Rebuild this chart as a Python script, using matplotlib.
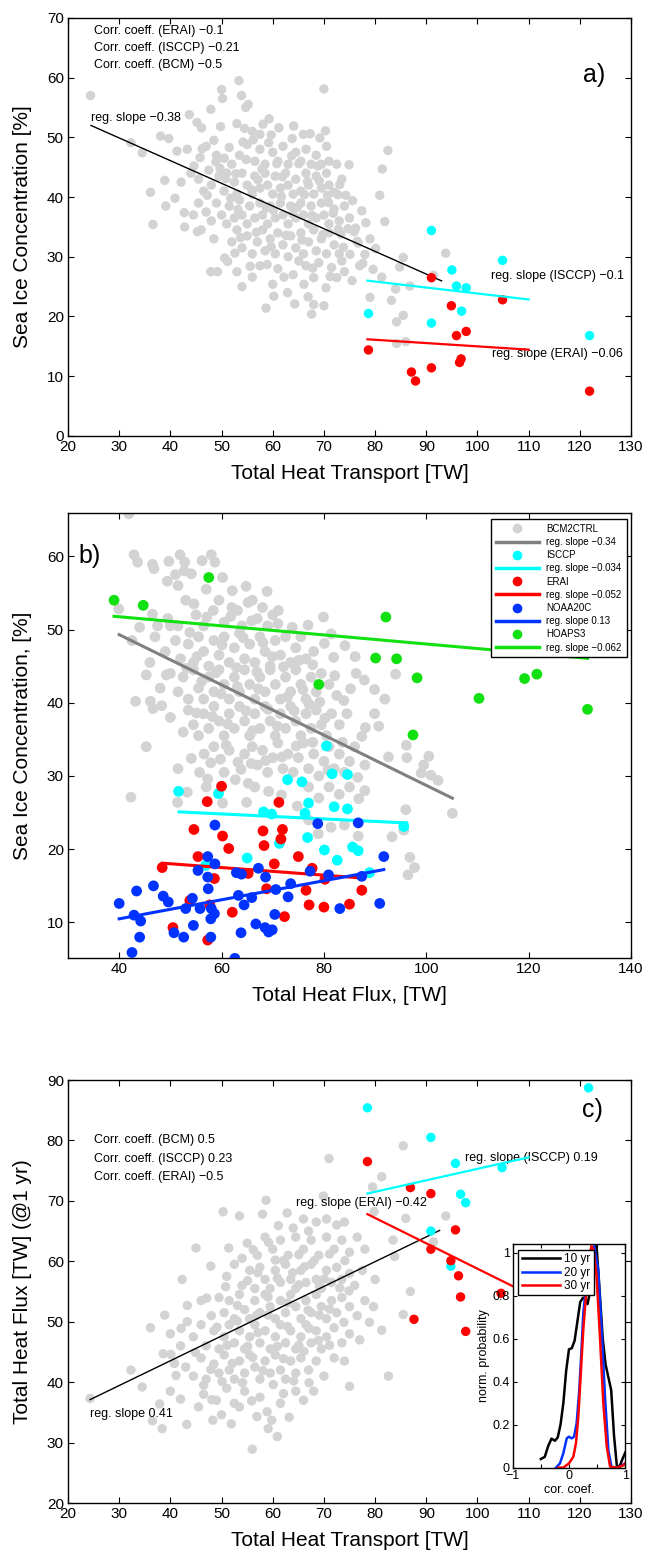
import numpy as np
import matplotlib
matplotlib.use('Agg')
import matplotlib.pyplot as plt
from matplotlib.lines import Line2D

plt.rcParams['font.family'] = ['Liberation Sans', 'DejaVu Sans']

# ---------------- panel a data: Total heat transport vs sea ice ----------------
a_gray = [
    (50, 58), (50.2, 56.5), (53.4, 59.5), (53.9, 57), (54.7, 55), (55.2, 55.5), (70, 58.1),
    (43.7, 53.8), (45.2, 52.5), (46.1, 51.6), (47.9, 54.7), (49.8, 51.8), (53, 52.3), (54.5, 51.5),
    (56, 51), (57.5, 50.5), (59.3, 53.1), (59.7, 50.4), (63.8, 49.8), (66, 50.5), (70.3, 51.1),
    (38.1, 50.2), (39.7, 49.8), (32.3, 49.1), (24.4, 57.0),
    (34.5, 47.4), (41.3, 47.7), (43.3, 48), (45.8, 46.6), (47, 48.5), (48.5, 49.5), (49, 47),
    (50.5, 46.5), (51.5, 48.3), (52, 45.5), (53.5, 47), (55, 48.8), (56.5, 46), (57.5, 48),
    (58.5, 45.5), (60, 47.5), (61, 46), (62, 48.5), (63, 45.5), (64.5, 47.5), (65.5, 46),
    (66.5, 48), (67.5, 45.5), (68.5, 47), (69.5, 45.5), (70.5, 48.5), (71, 46), (74.9, 45.4),
    (82.5, 47.8), (81.4, 44.7), (72.5, 45.5),
    (38.9, 42.8), (42.1, 42.5), (44, 44), (45.5, 43), (46.5, 41), (47.5, 44.5), (48, 42),
    (49.5, 43.5), (50.5, 41), (51, 44), (52.5, 42.5), (53, 40.5), (54, 44), (55, 42), (56, 40.5),
    (56.5, 43.5), (57.5, 41.5), (58.5, 44), (59, 42), (60, 40.5), (60.5, 43.5), (61.5, 41.5),
    (62.5, 44), (63, 42), (64, 40.5), (64.5, 43), (65.5, 41), (66.5, 44), (67, 42), (68, 40.5),
    (68.5, 43.5), (69.5, 41.5), (70.5, 44), (71, 42), (72, 40.8), (72.7, 40.4), (73.5, 43),
    (74.3, 40.3), (36.1, 40.8), (40.9, 39.8), (80.9, 40.3),
    (36.6, 35.4), (39.1, 38.5), (42.7, 37.4), (42.8, 35), (44.5, 37), (45.5, 39), (47, 37.5),
    (48, 36), (49, 39), (50, 37), (51, 35.5), (51.5, 38.5), (52.5, 36.5), (53.5, 39.5), (54, 37),
    (55, 35.5), (55.5, 38.5), (56.5, 36.5), (57.5, 39), (58, 37), (59, 35.5), (59.5, 38.5),
    (60.5, 36.5), (61.5, 39), (62, 37), (63, 35.5), (63.5, 38.5), (64.5, 36.5), (65.5, 39),
    (66, 37), (67, 35.5), (67.5, 38.5), (68.5, 36.5), (69.5, 39), (70, 37), (71, 35.5), (72, 38),
    (73, 36), (74, 38.5), (75, 36.5), (75.9, 34.2), (77.4, 37.7), (81.9, 35.9),
    (45.3, 34.2), (46, 34.5), (48.5, 33), (50.6, 29.8), (51.2, 29.2), (52, 32.5), (53, 34.5),
    (54, 31.5), (55, 33.5), (56, 30.5), (57, 32.5), (58, 34.5), (58.5, 31), (59.5, 33),
    (60.5, 30.5), (61, 34), (62, 32), (63, 30), (63.5, 33.5), (64.5, 31.5), (65.5, 34), (66, 30.5),
    (67, 32.5), (68, 34.5), (68.5, 31), (69.5, 33), (70.5, 30.5), (71, 34), (72, 32), (73, 30.5),
    (73.5, 29.3), (75.1, 30.4), (76.5, 32.6), (76.7, 32.3), (78, 30.4), (80.1, 31.4), (79, 33),
    (47.9, 27.5), (49.2, 27.5), (53, 27.5), (54, 25), (56, 26.6), (57.5, 28.5), (60, 25.4),
    (61, 28), (62.9, 24), (64, 27), (66.1, 25.4), (66.5, 28.5), (68, 26.5), (69, 29), (70.4, 24.8),
    (71.5, 28.2), (72.5, 26.5), (74, 27.5), (75.5, 26), (77, 28.5), (79.6, 27.9), (81.3, 26.6),
    (84.8, 28.3), (85.5, 29.9), (86.8, 25.1), (84, 24.6), (91.4, 26.9), (93.8, 30.6),
    (58.7, 21.4), (60.2, 23.4), (64.3, 22.1), (66.9, 23.3), (67.6, 20.4), (68, 22), (70, 21.8),
    (79, 23.2), (83.2, 22.7), (84.2, 19.1), (85.5, 20.2), (84.2, 15.5), (86, 15.8),
    (49.7, 44.8), (51.8, 39.8), (52.8, 43.9), (53.7, 33.2), (54.8, 46.3), (55.9, 41.2), (56.8, 34.1),
    (57.9, 44.7), (58.8, 38.2), (59.7, 31.7), (60.8, 45.6), (61.7, 40.1), (62.6, 33.6), (63.7, 46.9),
    (64.8, 38.3), (65.7, 32.8), (66.8, 42.6), (67.7, 36.9), (68.8, 45.2), (69.8, 33.7), (70.7, 40.3),
    (71.8, 37.3), (72.8, 34.6), (73.8, 31.6), (74.7, 34.7), (56.2, 49.6), (58.1, 52.2), (61.2, 51.6),
    (64.1, 51.9), (67.3, 50.6), (69.2, 49.9), (52.6, 30.6), (55.6, 28.4), (58.9, 28.7), (62.2, 26.6),
    (65.1, 29.3), (67.8, 28.1), (71.2, 26.7), (73.3, 33.8), (76.2, 34.8), (78.2, 35.7), (77.6, 28.9),
    (50.8, 43.1), (47.2, 40.3), (48.9, 45.9), (46.2, 48.1), (44.6, 45.2), (53.2, 37.9), (60.1, 37.8),
    (63.9, 37.2), (66.2, 40.4), (69.1, 42.7), (57.1, 42.9), (61.9, 43.4), (65.1, 45.6), (54.2, 49.2),
    (59.2, 49.1), (70.9, 39.1), (73.1, 42.1), (75.6, 39.4),
]
a_isccp = [(91.0, 34.4), (104.9, 29.4), (95.0, 27.8), (95.9, 25.1), (97.8, 24.8),
           (78.7, 20.5), (96.9, 20.9), (91.0, 18.9), (121.9, 16.8)]
a_erai = [(91.0, 26.5), (104.9, 22.8), (94.9, 21.8), (97.8, 17.5), (95.9, 16.8), (78.7, 14.4),
          (96.8, 12.9), (96.5, 12.3), (91.0, 11.4), (87.1, 10.7), (87.9, 9.2), (121.9, 7.5)]

# regression lines: slope, intercept, x start, x end
a_fit_color = ['black', '#00ffff', '#ff0000']
a_fit_slope = [-0.38, -0.10, -0.055]
a_fit_icpt = [61.3, 33.85, 20.5]
a_fit_x0 = [24.5, 78.5, 78.5]
a_fit_x1 = [93.0, 110.0, 110.0]
a_fit_lw = [1.0, 1.6, 1.6]

# ---------------- panel b data: Total heat flux vs sea ice ----------------
b_gray = [
    (41.9, 65.8), (42.9, 60.2), (43.6, 59.2), (46.5, 58.9), (46.8, 58.3), (49.7, 59.3), (49.4, 56.6),
    (51.9, 60.2), (52.8, 59.2), (52.7, 58), (51.5, 56), (56.2, 59.4), (58, 60.2), (58.7, 59.2),
    (57, 55.5), (51, 57.5),
    (39.9, 52.8), (44, 50.3), (46.5, 52.1), (49.5, 51.5), (51.5, 50.5), (53, 54), (54.6, 53.5),
    (55, 52), (56.5, 50.5), (58.4, 52.6), (59.5, 54), (60.5, 51), (62, 53), (63.1, 52.6), (64, 50.5),
    (65.2, 53.7), (66, 54), (67, 51.5), (68, 53), (69, 50.5), (70, 52), (71, 50.8), (79.9, 51.7),
    (50, 50.5), (47.5, 50.5),
    (42.5, 48.5), (46, 45.5), (47, 49), (49, 47), (51, 48.5), (52, 46), (53.5, 48), (54.5, 45.5),
    (55.5, 49), (56.5, 47), (57.5, 45), (58.5, 48.5), (59.5, 46.5), (60.5, 49), (61.5, 45.5),
    (62.5, 47.5), (63.5, 49.5), (64.5, 46), (65.5, 48), (66.5, 45.5), (67.5, 49), (68.5, 47),
    (69.5, 45), (70.5, 48.5), (71.5, 46.5), (72.5, 49), (73.5, 45.5), (74.5, 47.5), (75.5, 49),
    (76.5, 46), (78, 47), (80.1, 48.1), (81.4, 49.4), (86.1, 46.3),
    (43.2, 40.2), (45.3, 43.8), (46.1, 40.2), (48, 42), (50, 44), (51.5, 41.5), (52.5, 43.5),
    (53.5, 40.5), (54.5, 44.5), (55.5, 42), (56.5, 40.5), (57.5, 43.5), (58.5, 41.5), (59.5, 44.5),
    (60.5, 42.5), (61.5, 40.5), (62.5, 43.5), (63.5, 41.5), (64.5, 44.5), (65.5, 42.5), (66.5, 40.5),
    (67.5, 43.5), (68.5, 41.5), (69.5, 44.5), (70.5, 42.5), (71.5, 40.5), (72.5, 43.5), (73.5, 41.5),
    (74.5, 44.5), (75.5, 42.5), (76.5, 40.5), (77.5, 43.5), (78.5, 41.5), (79.5, 44), (81, 42.5),
    (82.5, 41), (86.3, 44), (89.9, 41.8), (91.9, 40.5), (94, 43.9),
    (46.6, 39.2), (50, 38), (52.5, 36), (53.5, 39), (54.5, 37), (55.5, 35.5), (56.5, 38.5),
    (57.5, 36.5), (58.5, 39.5), (59.5, 37.5), (60.5, 35.5), (61.5, 38.5), (62.5, 36.5), (63.5, 39.5),
    (64.5, 37.5), (65.5, 35.5), (66.5, 38.5), (67.5, 36.5), (68.5, 39.5), (69.5, 37.5), (70.5, 35.5),
    (71.5, 38.5), (72.5, 36.5), (73.5, 39.5), (74.5, 37.5), (75.5, 35.5), (76.5, 38.5), (77.5, 36.5),
    (78.5, 39), (79.5, 37), (80.5, 35.5), (81.5, 38.5), (83, 37), (84.5, 38.5), (87.4, 35.4),
    (88.1, 36.6), (89.9, 38.5), (90.7, 36.8),
    (45.3, 34), (51.5, 31), (54.1, 32.4), (56.6, 33), (55.7, 30.5), (57.3, 29.6), (58.5, 34),
    (59.8, 32.3), (60.5, 30.5), (61.5, 33.5), (62.7, 29.5), (63.8, 30.9), (64.5, 33), (65.2, 29),
    (66, 34), (67, 31.5), (68, 33.5), (69, 30.5), (70, 32.5), (71, 34.5), (72, 31), (73, 33),
    (74, 30.5), (75, 32.5), (76, 34.5), (77, 31), (78, 33), (79, 30), (80, 32), (81, 34), (82, 31),
    (83, 33), (84, 30.5), (85, 32), (86, 34), (92.6, 32.6), (96.1, 34.2), (96.2, 32.5), (100.5, 32.7),
    (99.5, 31.5), (99, 30.4), (100.9, 30.1), (102.3, 29.4), (88, 31.5),
    (42.3, 27.1), (51.4, 26.4), (53.3, 27.8), (60.2, 26.3), (64.9, 26.4), (69.2, 27.9), (71.7, 27.4),
    (74.8, 25.9), (77, 28.5), (79, 27), (81, 28.5), (83, 27.5), (85, 28.5), (86.8, 26.9), (88, 28),
    (96, 25.4), (105.1, 24.9), (66.5, 28.5), (57, 28.5),
    (95.6, 22.6), (93.3, 21.7), (96.8, 18.9), (97.7, 17.5), (96.4, 16.5), (86.7, 21.8), (78.9, 22.1),
    (81.4, 23), (84, 23.3), (77, 24),
    (53.8, 49.6), (55.2, 46.3), (57.1, 51.7), (58.9, 44.1), (60.1, 47.9), (61.8, 51.8), (62.9, 44.8),
    (64.2, 48.9), (65.9, 51.2), (66.9, 44.2), (68.1, 48.2), (69.9, 46.3), (71.1, 52.6), (72.1, 44.9),
    (73.8, 50.3), (75.1, 45.8), (76.9, 50.6), (77.8, 45.2), (56.1, 42.9), (58.2, 38.1), (59.9, 41.2),
    (61.2, 37.1), (63.1, 42.2), (64.8, 38.9), (66.1, 36.2), (67.2, 41.9), (69.1, 39.1), (70.9, 36.8),
    (72.9, 40.8), (74.2, 38.9), (75.9, 41.8), (77.1, 39.8), (79.2, 40.1), (80.2, 37.9), (82.1, 43.7),
    (83.9, 40.3), (85.2, 41.9), (57.9, 31.8), (60.9, 34.2), (63.2, 31.9), (65.8, 31.7), (68.6, 32.1),
    (71.8, 32.6), (74.6, 34.1), (77.8, 34.6), (80.8, 30.8), (83.6, 34.6), (86.6, 29.8), (55.1, 38.6),
    (53.2, 44.7), (49.2, 43.8), (48.3, 39.6), (81.9, 46.2), (84.1, 47.8), (87.9, 43.1), (62.1, 55.3),
    (64.8, 55.9), (60.2, 57.1), (54.1, 57.6), (68.9, 55.2),
]
b_isccp = [(51.6, 27.9), (59.4, 27.6), (72.9, 29.5), (75.7, 29.2), (80.5, 34.1), (81.6, 30.3),
           (84.6, 30.2), (77.0, 26.3), (82.0, 25.8), (84.6, 25.5), (68.2, 25.1), (69.8, 24.8),
           (76.3, 24.9), (95.6, 23.1), (76.8, 21.6), (71.3, 20.8), (80.1, 19.9), (85.6, 20.3),
           (86.7, 19.8), (65.0, 18.8), (82.6, 18.5), (88.9, 16.8), (56.9, 17.8)]
b_erai = [(60.0, 28.6), (57.2, 26.5), (71.2, 26.4), (54.6, 22.7), (68.1, 22.5), (71.9, 22.7),
          (60.2, 21.8), (71.6, 21.4), (61.4, 20.1), (68.3, 20.5), (55.4, 19.0), (70.3, 18.0),
          (75.0, 19.0), (48.4, 17.5), (58.6, 16.0), (65.2, 16.7), (77.7, 17.4), (80.2, 15.9),
          (87.4, 14.4), (68.8, 14.6), (76.5, 14.4), (77.1, 12.4), (80.0, 12.1), (85.0, 12.5),
          (62.1, 11.4), (72.3, 10.8), (50.5, 9.3), (57.3, 7.6), (57.7, 12.4), (53.8, 13.0)]
b_noaa = [(58.7, 23.3), (78.8, 23.5), (86.7, 23.6), (91.7, 19.0), (57.3, 19.0), (58.7, 18.0),
          (55.4, 17.1), (57.3, 16.2), (57.4, 14.6), (67.2, 17.4), (68.6, 16.2), (62.9, 16.8),
          (63.9, 16.6), (77.3, 17.0), (80.9, 16.5), (87.4, 16.3), (73.5, 15.3), (70.6, 14.5),
          (73.0, 13.5), (65.9, 13.4), (63.3, 13.7), (64.4, 12.4), (46.7, 15.0), (43.4, 14.3),
          (40.0, 12.6), (48.6, 13.6), (49.6, 12.8), (54.3, 13.3), (53.0, 11.9), (55.8, 11.9),
          (58.0, 11.9), (58.6, 11.2), (57.9, 10.5), (42.9, 11.0), (44.2, 10.2), (54.5, 9.6),
          (50.7, 8.6), (52.6, 8.0), (44.0, 8.0), (57.9, 8.0), (42.5, 5.9), (62.6, 5.1), (63.8, 8.6),
          (66.7, 9.8), (68.5, 9.3), (69.2, 8.7), (69.9, 9.0), (70.4, 11.1), (83.1, 11.9), (90.9, 12.6)]
b_hoaps = [(39.0, 54.0), (44.7, 53.3), (57.5, 57.1), (92.1, 51.7), (79.0, 42.5), (90.1, 46.1),
           (94.2, 46.0), (98.2, 43.4), (97.4, 35.6), (110.3, 40.6), (119.2, 43.3), (121.6, 43.9),
           (131.5, 39.1)]

b_names = ['BCM2CTRL', 'ISCCP', 'ERAI', 'NOAA20C', 'HOAPS3']
b_dot_color = ['#d3d3d3', '#00ffff', '#ff0000', '#0033ff', '#11e011']
b_line_color = ['#808080', '#00ffff', '#ff0000', '#0033ff', '#11e011']
b_fit_slope = [-0.343, -0.034, -0.052, 0.13, -0.062]
b_fit_icpt = [63.02, 26.86, 20.62, 5.3, 54.22]
b_fit_x0 = [40.0, 51.7, 48.4, 40.0, 39.0]
b_fit_x1 = [105.1, 96.2, 87.4, 91.7, 131.5]
b_slope_text = ['\u22120.34', '\u22120.034', '\u22120.052', '0.13', '\u22120.062']

# ---------------- panel c data: Total heat transport vs total heat flux ----------------
c_gray = [
    (71, 77), (85.5, 79.1), (81.3, 74), (79.5, 72.3), (69.9, 70.8), (58.7, 70.1),
    (50.3, 68.2), (53.5, 67.5), (58, 67.8), (62.8, 68), (66, 67), (68.5, 66.5), (70.5, 67),
    (72.5, 66), (74, 66.5), (79.8, 68.2), (86, 67.1), (93.8, 67.5), (64, 65.5), (67, 65),
    (45, 62.2), (51.4, 62.2), (55, 63), (57, 61), (58.5, 64), (60, 62), (61.5, 63.5), (63, 61),
    (64.5, 64), (66, 62), (67.5, 63.5), (69, 61), (70.5, 64), (72, 62), (73.5, 63.5), (75, 61.5),
    (76.5, 64), (78, 62), (83.8, 60.8), (83.5, 63.5), (91.4, 63.2), (54, 60.5), (60.5, 60.2),
    (42.3, 57), (47.9, 59.2), (51, 57.5), (52.5, 59.5), (54, 56), (55.5, 58.5), (56.5, 55.5),
    (57.5, 59), (58.5, 57), (59.5, 55.5), (60.5, 58.5), (61.5, 56.5), (62.5, 59.5), (63.5, 57),
    (64.5, 55.5), (65.5, 58.5), (66.5, 56.5), (67.5, 59.5), (68.5, 57), (69.5, 55.5), (70.5, 58.5),
    (71.5, 56.5), (72.5, 59), (73.5, 57), (75, 58), (76, 56), (77.5, 58.5), (86.9, 55), (80, 57),
    (38.9, 51.1), (43.3, 52.7), (43.3, 50), (46, 53.5), (48, 51), (49.5, 54), (50.5, 51.5),
    (51.5, 53.5), (52.5, 50.5), (53.5, 54.5), (54.5, 52), (55.5, 50.5), (56.5, 53.5), (57.5, 51.5),
    (58.5, 54.5), (59.5, 52.5), (60.5, 50.5), (61.5, 53.5), (62.5, 51.5), (63.5, 54.5), (64.5, 52.5),
    (65.5, 50.5), (66.5, 53.5), (67.5, 51.5), (68.5, 54.5), (69.5, 52.5), (70.5, 50.5), (71.5, 53.5),
    (72.5, 51.5), (73.5, 54), (75, 52.5), (76.5, 51), (78, 53.5), (79.7, 52.5), (85.5, 51.2),
    (36.1, 49), (40, 48), (42, 46), (44.5, 47.5), (46, 49.5), (47, 46), (48.5, 48.5), (49.5, 45.5),
    (50.5, 47.5), (51.5, 49.5), (52.5, 46.5), (53.5, 48.5), (54.5, 45.5), (55.5, 47.5), (56.5, 49.5),
    (57.5, 46.5), (58.5, 48.5), (59.5, 45.5), (60.5, 47.5), (61.5, 49.5), (62.5, 46.5), (63.5, 48.5),
    (64.5, 45.5), (65.5, 47.5), (66.5, 49.5), (67.5, 46.5), (68.5, 48.5), (69.5, 45.5), (70.5, 47.5),
    (72, 49), (73.5, 46.5), (75, 48), (77, 47), (81.3, 48.6),
    (38.6, 44.7), (40.1, 44.6), (40.8, 43.1), (43, 42.5), (44.5, 41), (46, 44), (47, 40.5),
    (48.5, 43), (49.5, 41.5), (50.5, 44.5), (51.5, 42), (52.5, 40.5), (53.5, 43.5), (54.5, 41.5),
    (55.5, 44.5), (56.5, 42.5), (57.5, 40.5), (58.5, 43.5), (59.5, 41.5), (60.5, 44.5), (61.5, 42),
    (62.5, 40.5), (63.5, 43.5), (64.5, 41.5), (65.5, 44), (67, 42), (68.5, 43.5), (70, 41), (72, 44),
    (74, 43.5), (75, 39.3), (82.6, 41),
    (24.3, 37.3), (32.3, 42), (34.5, 39.2), (36.5, 33.6), (37.9, 36.4), (38.4, 32.3), (42, 37.2),
    (43.2, 33), (45.5, 35.9), (46.5, 38), (48.3, 33.7), (49, 37), (50, 34.6), (51, 39), (52.5, 36.5),
    (53.5, 35.9), (54.5, 38.5), (56, 28.9), (56.9, 34.3), (57.5, 37.5), (59.1, 32.3), (59.8, 33.7),
    (60.9, 31), (61.5, 36.5), (63.2, 34.2), (64.5, 38.5), (66, 37), (68, 38.5), (46.5, 39.5),
    (40, 38.5),
    (50.8, 55.8), (53.1, 52.7), (55.1, 56.8), (56.9, 51.1), (59.1, 54.1), (60.9, 57.2), (62.9, 53.1),
    (65.1, 56.1), (66.9, 51.9), (69.1, 55.9), (71.1, 52.1), (73.1, 55.6), (49.1, 49.1), (51.1, 46.1),
    (53.1, 50.1), (55.1, 45.9), (57.1, 48.2), (59.1, 51.1), (60.9, 45.9), (62.9, 49.2), (65.1, 46.1),
    (67.1, 48.9), (69.1, 51.1), (71.1, 46.1), (73.9, 49.9), (47.9, 42.1), (50.1, 40.1), (52.1, 43.1),
    (54.1, 39.9), (56.1, 44.1), (58.1, 41.9), (60.1, 39.6), (62.1, 43.9), (64.1, 40.2), (66.1, 45.1),
    (68.9, 46.9), (56.2, 61.9), (59.2, 63.1), (62.1, 60.1), (65.1, 61.1), (68.1, 60.1), (71.1, 61.2),
    (74.1, 60.1), (61.1, 65.9), (57.1, 58.1), (63.9, 58.1), (66.2, 59.1), (70.1, 57.1), (74.9, 55.1),
    (44.9, 44.9), (42.1, 48.9), (47.1, 53.9), (41.1, 41.1), (48.1, 37.1), (55.9, 36.9), (58.9, 35.1),
    (62.1, 38.1), (51.9, 33.1), (67.1, 39.9), (78.9, 49.9),
]
c_isccp = [(78.5, 85.4), (90.9, 80.5), (121.7, 88.7), (95.7, 76.2), (104.8, 75.5),
           (96.7, 71.1), (97.7, 69.7), (90.9, 65.0), (94.8, 59.2)]
c_erai = [(78.5, 76.5), (86.9, 72.2), (90.9, 71.2), (95.7, 65.2), (90.9, 62.0), (94.8, 60.1),
          (96.3, 57.6), (96.7, 54.1), (87.6, 50.4), (97.7, 48.4), (104.6, 54.7), (121.9, 52.0)]

c_fit_color = ['black', '#00ffff', '#ff0000']
c_fit_slope = [0.41, 0.19, -0.42]
c_fit_icpt = [27.14, 56.3, 100.77]
c_fit_x0 = [24.3, 78.5, 78.5]
c_fit_x1 = [92.6, 110.0, 110.0]
c_fit_lw = [1.0, 1.6, 1.6]

# inset: distribution of correlation coefficients
ins_labels = ['10 yr', '20 yr', '30 yr']
ins_colors = ['black', '#0033ff', '#ff0000']
ins_x10 = [-0.5, -0.43, -0.37, -0.31, -0.25, -0.2, -0.15, -0.1, -0.05, 0.0, 0.05, 0.1, 0.15,
           0.2, 0.25, 0.3, 0.33, 0.36, 0.4, 0.45, 0.49, 0.55, 0.6, 0.65, 0.7, 0.75, 0.8, 0.85,
           0.9, 0.95, 1.0]
ins_y10 = [0.04, 0.05, 0.1, 0.135, 0.125, 0.14, 0.2, 0.3, 0.45, 0.55, 0.555, 0.59, 0.68,
           0.77, 0.79, 0.78, 0.76, 0.8, 0.92, 1.02, 1.03, 0.8, 0.6, 0.48, 0.42, 0.36, 0.15, 0.01,
           0.005, 0.04, 0.07]
ins_x20 = [-0.23, -0.16, -0.1, -0.04, 0.0, 0.047, 0.09, 0.136, 0.183, 0.225, 0.254, 0.314,
           0.385, 0.45, 0.52, 0.58, 0.64, 0.7, 0.757, 0.876, 1.0]
ins_y20 = [0.0, 0.02, 0.067, 0.136, 0.144, 0.136, 0.144, 0.206, 0.36, 0.56, 0.717, 0.87,
           1.01, 1.03, 0.92, 0.64, 0.33, 0.08, 0.0, 0.0, 0.02]
ins_x30 = [-0.19, -0.1, 0.0, 0.077, 0.124, 0.166, 0.213, 0.254, 0.314, 0.36, 0.4, 0.44,
           0.49, 0.55, 0.61, 0.67, 0.73, 0.85, 0.96, 1.0]
ins_y30 = [0.0, 0.0, 0.02, 0.05, 0.113, 0.237, 0.454, 0.64, 0.84, 0.98, 1.03, 1.01, 0.89,
           0.61, 0.30, 0.10, 0.005, 0.0, 0.01, 0.02]

GRAY = '#d3d3d3'
CYAN = '#00ffff'
RED = '#ff0000'
TXT = 9
LAB = 15
DOT = 46


def style(ax):
    ax.tick_params(direction='in', top=True, right=True, length=4, width=0.8,
                   labelsize=11, pad=3)
    for s in ax.spines.values():
        s.set_linewidth(1.0)


def pts(p):
    p = np.asarray(p, dtype=float)
    return p[:, 0], p[:, 1]


def fit_line(ax, slope, icpt, x0, x1, **kw):
    xx = np.array([x0, x1])
    ax.plot(xx, icpt + slope * xx, **kw)


fig = plt.figure(figsize=(6.47, 15.58), dpi=100)

# ---------------- a) ----------------
ax = fig.add_axes([0.1051, 0.7202, 0.8702, 0.2683])
x, y = pts(a_gray)
ax.scatter(x, y, s=DOT, c=GRAY, edgecolors='none', zorder=2)
fit_line(ax, a_fit_slope[0], a_fit_icpt[0], a_fit_x0[0], a_fit_x1[0],
         color=a_fit_color[0], lw=a_fit_lw[0], zorder=3)
x, y = pts(a_isccp)
ax.scatter(x, y, s=DOT, c=CYAN, edgecolors='none', zorder=4)
x, y = pts(a_erai)
ax.scatter(x, y, s=DOT, c=RED, edgecolors='none', zorder=4)
for i in (1, 2):
    fit_line(ax, a_fit_slope[i], a_fit_icpt[i], a_fit_x0[i], a_fit_x1[i],
             color=a_fit_color[i], lw=a_fit_lw[i], zorder=5)
ax.set_xlim(20, 130)
ax.set_ylim(0, 70)
ax.set_xticks(np.arange(20, 131, 10))
ax.set_yticks(np.arange(0, 71, 10))
ax.set_xlabel('Total Heat Transport [TW]', fontsize=LAB, labelpad=7)
ax.set_ylabel('Sea Ice Concentration [%]', fontsize=LAB, labelpad=11)
style(ax)
ax.text(25.1, 67.8, 'Corr. coeff. (ERAI) \u22120.1', fontsize=TXT, va='center')
ax.text(25.1, 65.0, 'Corr. coeff. (ISCCP) \u22120.21', fontsize=TXT, va='center')
ax.text(25.1, 62.1, 'Corr. coeff. (BCM) \u22120.5', fontsize=TXT, va='center')
ax.text(24.4, 53.3, 'reg. slope \u22120.38', fontsize=TXT, va='center')
ax.text(102.65, 26.7, 'reg. slope (ISCCP) \u22120.1', fontsize=TXT, va='center', clip_on=False)
ax.text(102.9, 13.7, 'reg. slope (ERAI) \u22120.06', fontsize=TXT, va='center', clip_on=False)
ax.text(120.6, 60.5, 'a)', fontsize=18, va='center')

# ---------------- b) ----------------
ax = fig.add_axes([0.1051, 0.3851, 0.8702, 0.2856])
b_sets = [b_gray, b_isccp, b_erai, b_noaa, b_hoaps]
handles = []
for i, p in enumerate(b_sets):
    x, y = pts(p)
    ax.scatter(x, y, s=60, c=b_dot_color[i], edgecolors='none', zorder=2 + 2 * i)
    fit_line(ax, b_fit_slope[i], b_fit_icpt[i], b_fit_x0[i], b_fit_x1[i],
             color=b_line_color[i], lw=2.2, zorder=3 + 2 * i)
    handles.append(Line2D([], [], ls='none', marker='o', ms=7, mec='none',
                          mfc=b_dot_color[i], label=b_names[i]))
    handles.append(Line2D([], [], color=b_line_color[i], lw=2.5,
                          label='reg. slope ' + b_slope_text[i]))
ax.set_xlim(30, 140)
ax.set_ylim(5.15, 65.9)
ax.set_xticks(np.arange(40, 141, 20))
ax.set_yticks(np.arange(10, 61, 10))
ax.set_xlabel('Total Heat Flux, [TW]', fontsize=LAB, labelpad=7)
ax.set_ylabel('Sea Ice Concentration, [%]', fontsize=LAB, labelpad=11)
style(ax)
ax.text(32.1, 60.0, 'b)', fontsize=18, va='center')
leg = ax.legend(handles=handles, loc='upper right', bbox_to_anchor=(0.992, 0.987),
                borderaxespad=0, fontsize=7, handlelength=4.4, labelspacing=0.33,
                fancybox=False, framealpha=1, edgecolor='black', borderpad=0.5)
leg.get_frame().set_linewidth(1.0)
leg.set_zorder(20)

# ---------------- c) ----------------
ax = fig.add_axes([0.1051, 0.0353, 0.8702, 0.2715])
x, y = pts(c_gray)
ax.scatter(x, y, s=DOT, c=GRAY, edgecolors='none', zorder=2)
fit_line(ax, c_fit_slope[0], c_fit_icpt[0], c_fit_x0[0], c_fit_x1[0],
         color=c_fit_color[0], lw=c_fit_lw[0], zorder=3)
x, y = pts(c_isccp)
ax.scatter(x, y, s=DOT, c=CYAN, edgecolors='none', zorder=4)
x, y = pts(c_erai)
ax.scatter(x, y, s=DOT, c=RED, edgecolors='none', zorder=4)
for i in (1, 2):
    fit_line(ax, c_fit_slope[i], c_fit_icpt[i], c_fit_x0[i], c_fit_x1[i],
             color=c_fit_color[i], lw=c_fit_lw[i], zorder=5)
ax.set_xlim(20, 130)
ax.set_ylim(20, 90)
ax.set_xticks(np.arange(20, 131, 10))
ax.set_yticks(np.arange(20, 91, 10))
ax.set_xlabel('Total Heat Transport [TW]', fontsize=LAB, labelpad=7)
ax.set_ylabel('Total Heat Flux [TW] (@1 yr)', fontsize=LAB, labelpad=11)
style(ax)
ax.text(25.06, 80.0, 'Corr. coeff. (BCM) 0.5', fontsize=TXT, va='center')
ax.text(25.06, 76.9, 'Corr. coeff. (ISCCP) 0.23', fontsize=TXT, va='center')
ax.text(25.06, 73.9, 'Corr. coeff. (ERAI) \u22120.5', fontsize=TXT, va='center')
ax.text(97.6, 77.1, 'reg. slope (ISCCP) 0.19', fontsize=TXT, va='center')
ax.text(64.5, 69.7, 'reg. slope (ERAI) \u22120.42', fontsize=TXT, va='center')
ax.text(24.3, 34.8, 'reg. slope 0.41', fontsize=TXT, va='center')
ax.text(120.4, 85.0, 'c)', fontsize=18, va='center')

# inset
axi = fig.add_axes([0.7924, 0.058, 0.174, 0.1436])
axi.set_facecolor('white')
for xs, ys, c, lab in zip([ins_x10, ins_x20, ins_x30], [ins_y10, ins_y20, ins_y30],
                          ins_colors, ins_labels):
    axi.plot(xs, ys, color=c, lw=1.8, label=lab)
axi.set_xlim(-1, 1)
axi.set_ylim(0, 1.04)
axi.set_xticks([-1, -0.5, 0, 0.5, 1])
axi.set_xticklabels(['\u22121', '', '0', '', '1'])
axi.set_yticks([0, 0.2, 0.4, 0.6, 0.8, 1.0])
axi.set_yticklabels(['0', '0.2', '0.4', '0.6', '0.8', '1'])
axi.tick_params(direction='in', top=True, right=True, length=3, width=0.8,
                labelsize=9, pad=2)
for s in axi.spines.values():
    s.set_linewidth(1.0)
axi.set_xlabel('cor. coef.', fontsize=9, labelpad=1)
axi.set_ylabel('norm. probability', fontsize=9, labelpad=2)
lg = axi.legend(loc='upper left', bbox_to_anchor=(0.05, 0.973), borderaxespad=0,
                fontsize=8.5, handlelength=3.2, labelspacing=0.1, fancybox=False,
                framealpha=1, edgecolor='black', borderpad=0.3, handletextpad=0.4)
lg.get_frame().set_linewidth(1.0)

fig.savefig('out.png', dpi=100)
